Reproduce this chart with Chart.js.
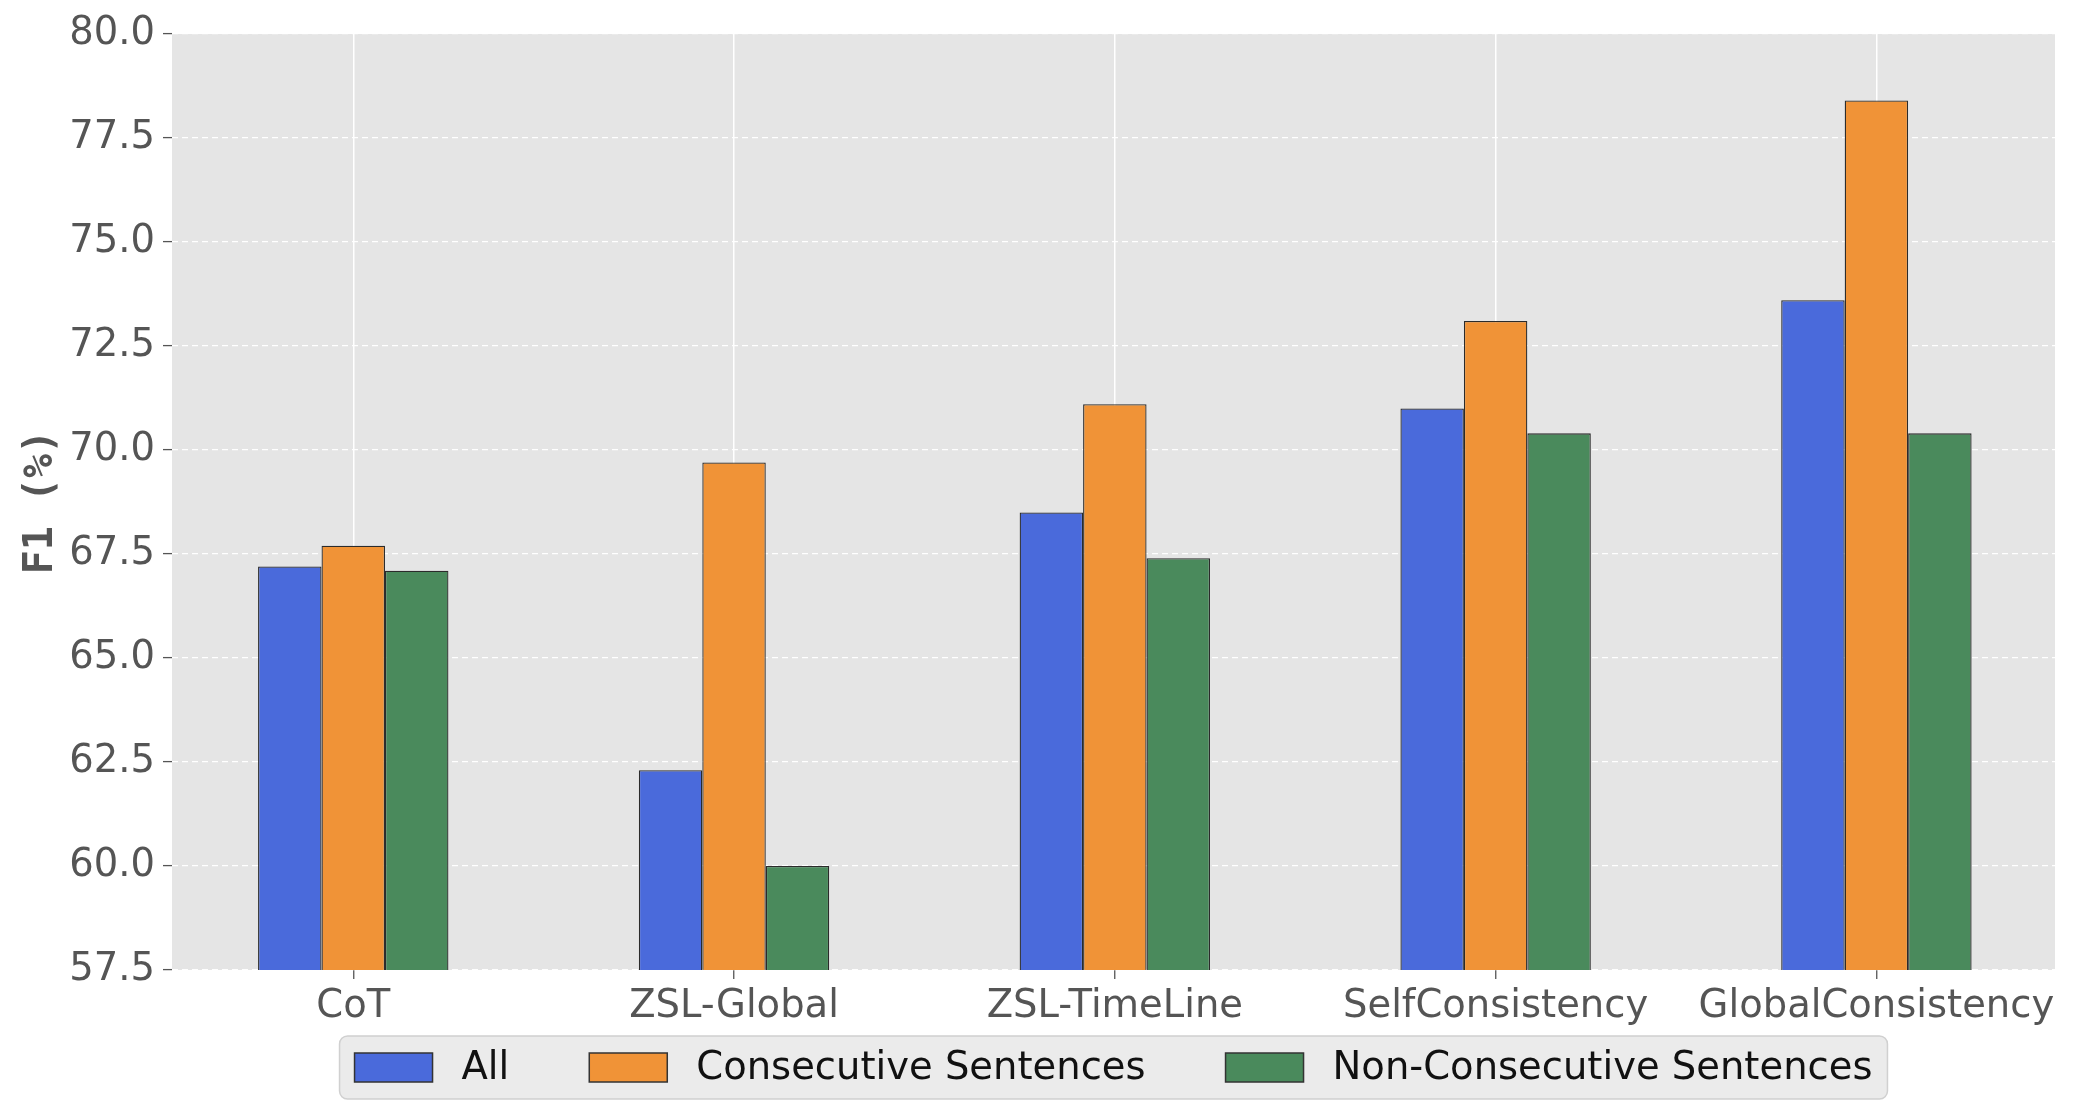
<!DOCTYPE html>
<html lang="en">
<head>
    <meta charset="UTF-8">
    <title>F1 by method</title>
    <script src="https://cdn.jsdelivr.net/npm/chart.js"></script>
    <style>
        body { margin: 0; background: #fff; }
        #wrap { width: 2076px; height: 1102px; }
    </style>
</head>
<body>
    <div id="wrap"><canvas id="f1-chart" width="2076" height="1102"></canvas></div>
    <script>
    // data
    const methods = ['CoT', 'ZSL-Global', 'ZSL-TimeLine', 'SelfConsistency', 'GlobalConsistency'];
    const allScores = [67.2, 62.3, 68.5, 71.0, 73.6];
    const consecutiveScores = [67.7, 69.7, 71.1, 73.1, 78.4];
    const nonConsecutiveScores = [67.1, 60.0, 67.4, 70.4, 70.4];
    const yTicks = [57.5, 60.0, 62.5, 65.0, 67.5, 70.0, 72.5, 75.0, 77.5, 80.0];

    const FONT = "'DejaVu Sans', sans-serif";
    const FS = 38.5;

    // grey panel behind the bars
    const panelBg = {
        id: 'panelBg',
        beforeDraw(chart) {
            const { ctx, chartArea: a } = chart;
            ctx.save();
            ctx.fillStyle = '#e5e5e5';
            ctx.fillRect(a.left, a.top, a.right - a.left, a.bottom - a.top);
            ctx.restore();
        }
    };

    // matplotlib-like legend box under the axis
    const boxLegend = {
        id: 'boxLegend',
        afterDraw(chart) {
            const ctx = chart.ctx;
            const a = chart.chartArea;
            const sets = chart.data.datasets;
            const patchW = 78, patchH = 29, gap = 29, itemGap = 80, pad = 15;
            ctx.save();
            ctx.font = FS + 'px ' + FONT;
            const widths = sets.map(d => ctx.measureText(d.label).width);
            let total = pad * 2;
            widths.forEach((w, i) => { total += patchW + gap + w + (i ? itemGap : 0); });
            const top = 1036, h = 63;
            let x = (a.left + a.right) / 2 - total / 2;
            ctx.beginPath();
            ctx.roundRect(x, top, total, h, 8);
            ctx.fillStyle = '#ebebeb';
            ctx.fill();
            ctx.strokeStyle = '#d0d0d0';
            ctx.lineWidth = 1.5;
            ctx.stroke();
            const cy = top + h / 2;
            x += pad;
            sets.forEach((d, i) => {
                if (i) x += itemGap;
                ctx.fillStyle = d.backgroundColor;
                ctx.fillRect(x, cy - patchH / 2, patchW, patchH);
                ctx.strokeStyle = '#333';
                ctx.lineWidth = 1.5;
                ctx.strokeRect(x, cy - patchH / 2, patchW, patchH);
                x += patchW + gap;
                ctx.fillStyle = '#111';
                ctx.textBaseline = 'middle';
                ctx.fillText(d.label, x, cy + 1);
                x += widths[i];
            });
            ctx.restore();
        }
    };

    const barStyle = { borderColor: '#2b2b2b', borderWidth: 1.3, categoryPercentage: 0.5, barPercentage: 1.0 };

    new Chart(document.getElementById('f1-chart'), {
        type: 'bar',
        data: {
            labels: methods,
            datasets: [
                Object.assign({ label: 'All', data: allScores, backgroundColor: '#4a6adb' }, barStyle),
                Object.assign({ label: 'Consecutive Sentences', data: consecutiveScores, backgroundColor: '#f09337' }, barStyle),
                Object.assign({ label: 'Non-Consecutive Sentences', data: nonConsecutiveScores, backgroundColor: '#4a8a5c' }, barStyle)
            ]
        },
        options: {
            responsive: false,
            devicePixelRatio: 1,
            animation: false,
            layout: { padding: { top: 34, right: 21, left: 0, bottom: 66 } },
            plugins: {
                legend: { display: false },
                tooltip: { enabled: false }
            },
            scales: {
                x: {
                    offset: true,
                    // matplotlib margins are a bit tighter than a half category
                    afterBuildTicks(scale) {
                        scale._startValue = -0.476;
                        scale._valueRange = methods.length - 1 + 0.945;
                    },
                    grid: {
                        offset: false,
                        color: '#ffffff',
                        lineWidth: 1.5,
                        tickLength: 9,
                        tickColor: '#555555',
                        tickWidth: 1.3
                    },
                    border: { display: false },
                    ticks: { color: '#555555', font: { family: FONT, size: FS }, padding: 5, maxRotation: 0 },
                    afterFit(scale) { scale.height = 66; }
                },
                y: {
                    min: 57.5,
                    max: 80,
                    afterBuildTicks(scale) { scale.ticks = yTicks.map(v => ({ value: v })); },
                    grid: {
                        color: '#ffffff',
                        lineWidth: 1.2,
                        tickLength: 9,
                        tickColor: '#555555',
                        tickWidth: 1.3,
                        tickBorderDash: []
                    },
                    border: { display: false, dash: [6, 4] },
                    ticks: {
                        color: '#555555',
                        font: { family: FONT, size: FS },
                        padding: 8,
                        callback: v => Number(v).toFixed(1)
                    },
                    title: {
                        display: true,
                        text: 'F1 (%)',
                        color: '#555555',
                        font: { family: "'DejaVu Sans Mono', monospace", size: 40, weight: 'bold' },
                        padding: { top: 18, bottom: 0 }
                    },
                    afterFit(scale) { scale.width = 172; }
                }
            }
        },
        plugins: [panelBg, boxLegend]
    });
    </script>
</body>
</html>
